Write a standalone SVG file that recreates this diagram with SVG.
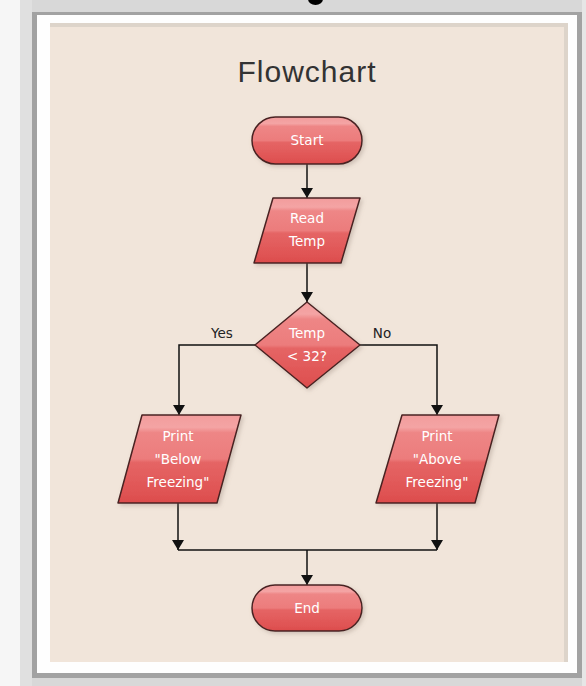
<svg xmlns="http://www.w3.org/2000/svg" width="586" height="686" viewBox="0 0 586 686">
<defs>
<linearGradient id="red" x1="0" y1="0" x2="0" y2="1">
<stop offset="0" stop-color="#f29c9c"/>
<stop offset="0.14" stop-color="#f4a4a4"/>
<stop offset="0.2" stop-color="#ee8686"/>
<stop offset="0.5" stop-color="#ec7c7c"/>
<stop offset="0.54" stop-color="#e56565"/>
<stop offset="0.85" stop-color="#e05555"/>
<stop offset="1" stop-color="#dc4c4c"/>
</linearGradient>
<filter id="sh" x="-20%" y="-20%" width="140%" height="140%">
<feDropShadow dx="2" dy="2" stdDeviation="2" flood-color="#8a7a70" flood-opacity="0.35"/>
</filter>
<marker id="ah" viewBox="0 0 10 12" refX="10" refY="6" markerWidth="10" markerHeight="12" markerUnits="userSpaceOnUse" orient="auto">
<path d="M0,0 L10,6 L0,12 Z" fill="#111"/>
</marker>
<style>
.shape{fill:url(#red);stroke:#4a2222;stroke-width:1.5;stroke-linejoin:round;filter:url(#sh)}
.lbl{font-family:"DejaVu Sans",sans-serif;font-size:13.5px;fill:#ffffff;text-anchor:middle}
.edge{font-family:"DejaVu Sans",sans-serif;font-size:13.5px;fill:#222;text-anchor:middle}
.ln{fill:none;stroke:#111;stroke-width:1.5}
</style>
</defs>
<!-- background / frame -->
<rect x="0" y="0" width="586" height="686" fill="#d8d8d8"/>
<rect x="0" y="0" width="20" height="686" fill="#f6f6f6"/>
<rect x="20" y="0" width="12" height="686" fill="#e0e0e0"/>
<rect x="582" y="0" width="4" height="686" fill="#e6e6e6"/>
<rect x="32" y="12" width="550" height="666" fill="#a2a2a2"/>
<rect x="37" y="15" width="540" height="658" fill="#fefefe"/>
<rect x="50" y="23" width="518" height="639" fill="#ddd4ca"/>
<rect x="50" y="27" width="514" height="635" fill="#f1e5da"/>
<ellipse cx="315.5" cy="-1" rx="7.5" ry="6" fill="#000"/>
<text x="307" y="82" font-family="Liberation Sans, Arial, sans-serif" font-size="30" letter-spacing="1" fill="#333" text-anchor="middle">Flowchart</text>
<!-- connectors -->
<g id="connectors">
<line class="ln" x1="307" y1="164" x2="307" y2="198" marker-end="url(#ah)"/>
<line class="ln" x1="307" y1="263" x2="307" y2="302" marker-end="url(#ah)"/>
<polyline class="ln" points="255,345 179,345 179,415" marker-end="url(#ah)"/>
<polyline class="ln" points="360,345 437,345 437,415" marker-end="url(#ah)"/>
<line class="ln" x1="178" y1="503" x2="178" y2="550" marker-end="url(#ah)"/>
<line class="ln" x1="437" y1="503" x2="437" y2="550" marker-end="url(#ah)"/>
<line class="ln" x1="178" y1="550" x2="437" y2="550"/>
<line class="ln" x1="307" y1="550" x2="307" y2="585" marker-end="url(#ah)"/>
<text class="edge" x="222" y="338">Yes</text>
<text class="edge" x="382" y="338">No</text>
</g>
<!-- nodes -->
<g id="start">
<rect class="shape" x="252" y="117" width="110" height="47" rx="23.5" ry="23.5"/>
<text class="lbl" x="307" y="145">Start</text>
</g>
<g id="read">
<path class="shape" d="M273,198 L360,198 L341,263 L254,263 Z"/>
<text class="lbl" x="307" y="223">Read</text>
<text class="lbl" x="307" y="246">Temp</text>
</g>
<g id="decision">
<path class="shape" d="M307,302 L360,345 L307,388 L255,345 Z"/>
<text class="lbl" x="307" y="338">Temp</text>
<text class="lbl" x="307" y="361">&lt; 32?</text>
</g>
<g id="below">
<path class="shape" d="M142,415 L241,415 L217,503 L118,503 Z"/>
<text class="lbl" x="178" y="441">Print</text>
<text class="lbl" x="178" y="464">"Below</text>
<text class="lbl" x="178" y="487">Freezing"</text>
</g>
<g id="above">
<path class="shape" d="M402,415 L499,415 L475,503 L376,503 Z"/>
<text class="lbl" x="437" y="441">Print</text>
<text class="lbl" x="437" y="464">"Above</text>
<text class="lbl" x="437" y="487">Freezing"</text>
</g>
<g id="end">
<rect class="shape" x="252" y="585" width="110" height="46" rx="23" ry="23"/>
<text class="lbl" x="307" y="613">End</text>
</g>
</svg>
